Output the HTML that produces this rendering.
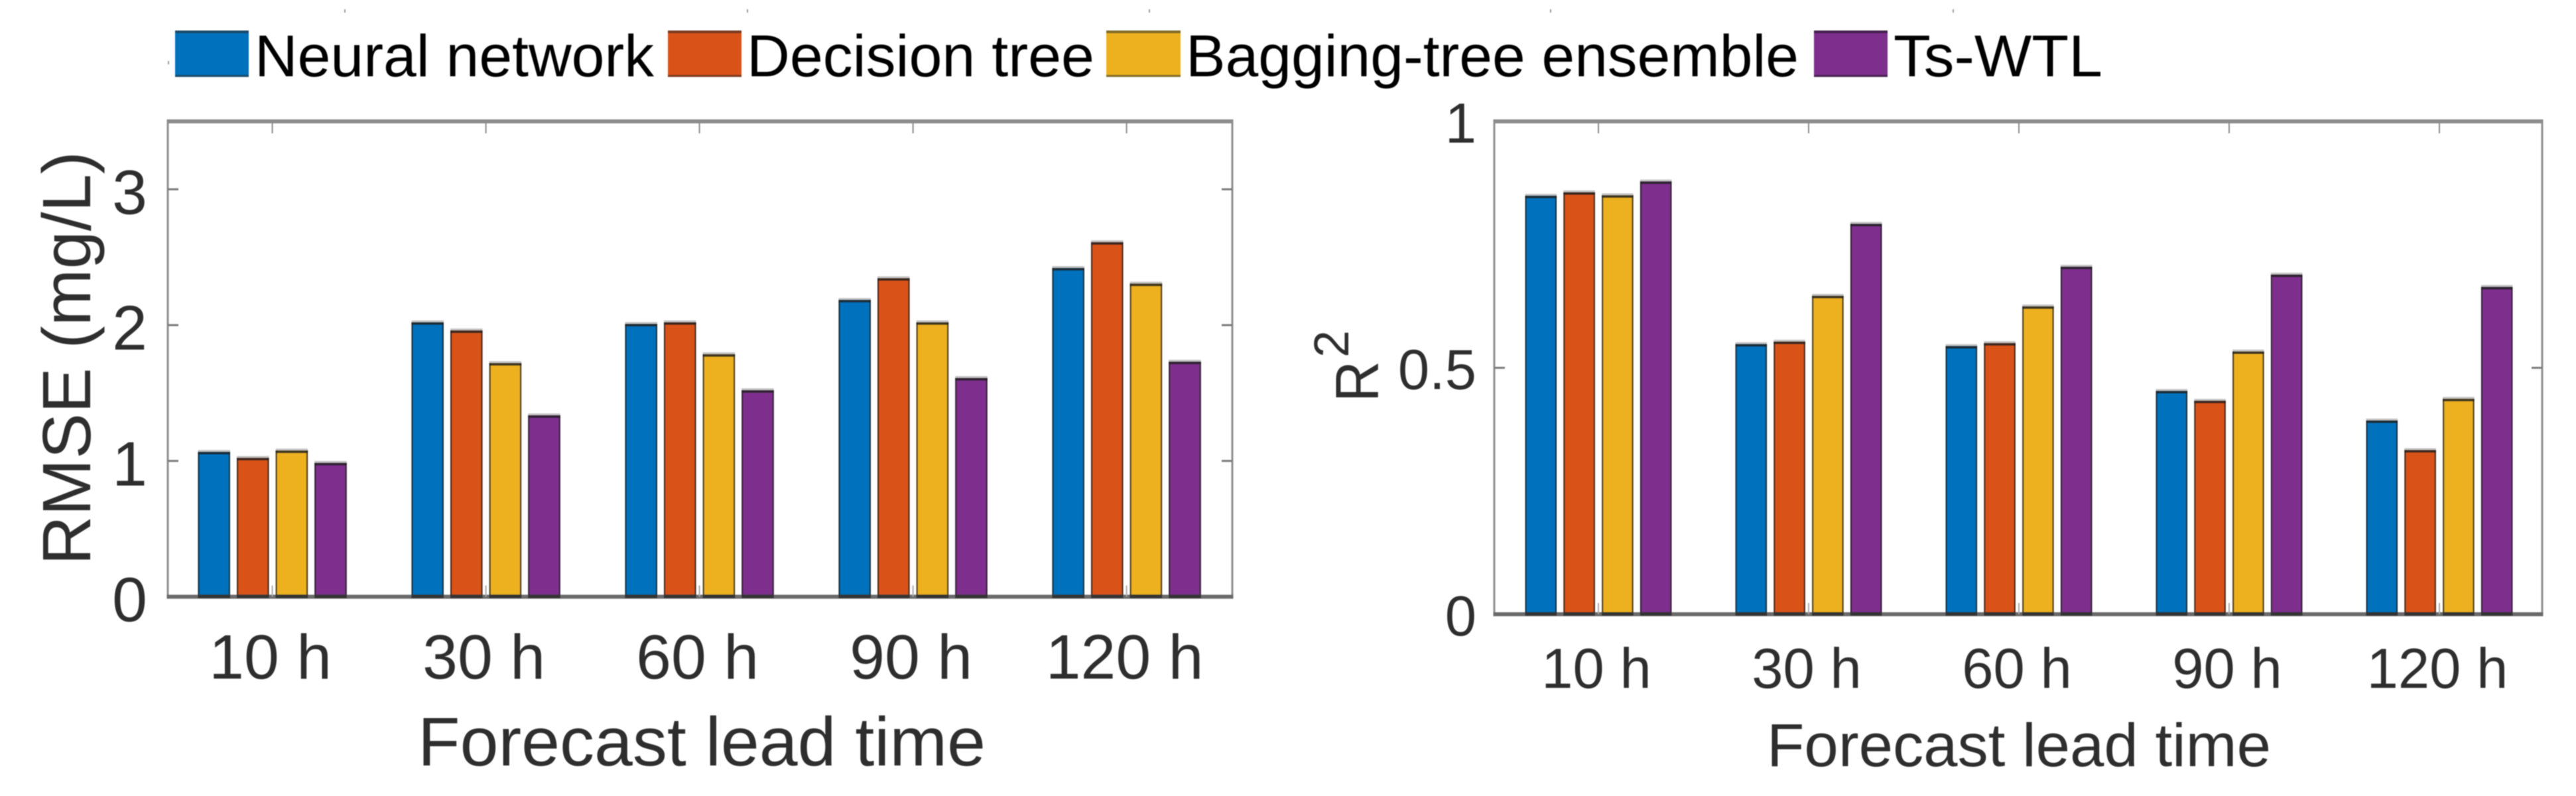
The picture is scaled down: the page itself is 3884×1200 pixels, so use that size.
<!DOCTYPE html>
<html lang="en">
<head>
<meta charset="utf-8">
<title>Forecast lead time comparison</title>
<style>
html,body{margin:0;padding:0;background:#fff;}
svg{display:block;filter:blur(0.8px);}
text{font-family:"Liberation Sans",sans-serif;}
</style>
</head>
<body>
<svg id="chart" xmlns="http://www.w3.org/2000/svg" width="3884" height="1200" viewBox="0 0 3884 1200">
  <rect x="0" y="0" width="3884" height="1200" fill="#ffffff"/>
  <g>
    <g>
      <rect x="264" y="46" width="111" height="70" fill="#0072BD"/>
      <rect x="264" y="46" width="111" height="4" fill="#1a4a68"/>
      <rect x="264" y="113" width="111" height="3" fill="#1a4a68"/>
      <text x="384" y="115" font-size="89" fill="#000" textLength="602" lengthAdjust="spacingAndGlyphs">Neural network</text>
    </g>
    <g>
      <rect x="1007" y="46" width="111" height="70" fill="#D95319"/>
      <rect x="1007" y="46" width="111" height="4" fill="#7a3a20"/>
      <rect x="1007" y="113" width="111" height="3" fill="#7a3a20"/>
      <text x="1126" y="115" font-size="89" fill="#000" textLength="524" lengthAdjust="spacingAndGlyphs">Decision tree</text>
    </g>
    <g>
      <rect x="1668" y="46" width="112" height="70" fill="#EDB120"/>
      <rect x="1668" y="46" width="112" height="4" fill="#7f6a25"/>
      <rect x="1668" y="113" width="112" height="3" fill="#7f6a25"/>
      <text x="1788" y="115" font-size="89" fill="#000" textLength="924" lengthAdjust="spacingAndGlyphs">Bagging-tree ensemble</text>
    </g>
    <g>
      <rect x="2735" y="46" width="111" height="70" fill="#7E2F8E"/>
      <rect x="2735" y="46" width="111" height="4" fill="#45204f"/>
      <rect x="2735" y="113" width="111" height="3" fill="#45204f"/>
      <text x="2855" y="115" font-size="89" fill="#000" textLength="315" lengthAdjust="spacingAndGlyphs">Ts-WTL</text>
    </g>
  </g>
  <g fill="#999">
    <rect x="519" y="14" width="2" height="5"/>
    <rect x="1126" y="14" width="2" height="5"/>
    <rect x="1732" y="14" width="2" height="5"/>
    <rect x="2337" y="14" width="2" height="5"/>
    <rect x="2944" y="14" width="2" height="5"/>
    <rect x="253" y="92" width="2" height="5"/>
  </g>
  <text transform="translate(136,852) rotate(-90)" font-size="103" fill="#2e2e2e" textLength="624" lengthAdjust="spacingAndGlyphs">RMSE (mg/L)</text>
  <text x="630" y="1154" font-size="104" fill="#2e2e2e" textLength="856" lengthAdjust="spacingAndGlyphs">Forecast lead time</text>
  <text transform="translate(2078,606) rotate(-90)" font-size="92" fill="#2e2e2e" textLength="62" lengthAdjust="spacingAndGlyphs">R</text>
  <text transform="translate(2033,539) rotate(-90)" font-size="74" fill="#2e2e2e">2</text>
  <text x="2664" y="1155" font-size="92" fill="#2e2e2e" textLength="760" lengthAdjust="spacingAndGlyphs">Forecast lead time</text>
  <g id="panels"></g>
</svg>
<script>
// Chart data
const categories = ['10 h', '30 h', '60 h', '90 h', '120 h'];
const seriesNames = ['neural-network', 'decision-tree', 'bagging-tree-ensemble', 'ts-wtl'];
const seriesColors = ['#0072BD', '#D95319', '#EDB120', '#7E2F8E'];

const rmseNeuralNetwork = [1.066, 2.02, 2.008, 2.185, 2.42];
const rmseDecisionTree = [1.022, 1.96, 2.02, 2.345, 2.61];
const rmseBagging = [1.076, 1.72, 1.785, 2.02, 2.305];
const rmseTsWtl = [0.985, 1.335, 1.52, 1.61, 1.73];

const r2NeuralNetwork = [0.849, 0.548, 0.544, 0.453, 0.393];
const r2DecisionTree = [0.856, 0.553, 0.55, 0.433, 0.333];
const r2Bagging = [0.85, 0.646, 0.6245, 0.533, 0.437];
const r2TsWtl = [0.878, 0.792, 0.705, 0.689, 0.664];

const rmseTicks = [0, 1, 2, 3];
const r2Ticks = [0, 0.5, 1];

const rmseMax = 3.5;
const r2Max = 1;

const NS = 'http://www.w3.org/2000/svg';
const root = document.getElementById('panels');

function make(tag, attrs, parent) {
  const el = document.createElementNS(NS, tag);
  for (const k in attrs) el.setAttribute(k, attrs[k]);
  parent.appendChild(el);
  return el;
}

function drawPanel(cfg) {
  const g = make('g', {}, root);
  
  

  const yScale = v => cfg.bottom - (v / cfg.max) * (cfg.bottom - cfg.top);
  const groupCenter = i => cfg.x0 + i * cfg.groupStep;
  const barLeft = (i, s) => groupCenter(i) + (s - 1.5) * cfg.barStep - cfg.barW / 2;

  // bars
  cfg.series.forEach((vals, s) => {
    vals.forEach((v, i) => {
      const x = barLeft(i, s);
      const y = yScale(v);
      const halo = make('rect', {x: x, y: y - 3, width: cfg.barW, height: 3, fill: '#c4c4c4'}, g);
      
      
      const bar = make('rect', {x: x, y: y, width: cfg.barW, height: cfg.bottom - y, fill: seriesColors[s], stroke: '#262626', 'stroke-width': 0}, g);
      
      
      const top = make('rect', {x: x, y: y, width: cfg.barW, height: 3.5, fill: '#1f1f1f', opacity: 0.85}, g);
      
      
      const lft = make('rect', {x: x, y: y, width: 2, height: cfg.bottom - y, fill: '#1f1f1f', opacity: 0.8}, g);
      
      
      const rgt = make('rect', {x: x + cfg.barW - 2, y: y, width: 2, height: cfg.bottom - y, fill: '#1f1f1f', opacity: 0.8}, g);
      
      
    });
  });

  // frame
  const left = make('rect', {x: cfg.left - 1.5, y: cfg.top, width: 3, height: cfg.bottom - cfg.top, fill: '#8e8e8e'}, g);
  
  
  const right = make('rect', {x: cfg.right - 1.5, y: cfg.top, width: 3, height: cfg.bottom - cfg.top, fill: '#8e8e8e'}, g);
  
  
  const topLine = make('rect', {x: cfg.left - 1.5, y: cfg.top - 3, width: cfg.right - cfg.left + 3, height: 6, fill: '#8c8c8c'}, g);
  
  
  const bottomLine = make('rect', {x: cfg.left - 1.5, y: cfg.bottom - 3, width: cfg.right - cfg.left + 3, height: 6, fill: '#6a6a6a'}, g);
  
  
  cfg.series.forEach((vals, s) => {
    vals.forEach((v, i) => {
      const foot = make('rect', {x: barLeft(i, s), y: cfg.bottom - 3, width: cfg.barW, height: 5, fill: '#333333'}, g);
      
      
    });
  });

  // x ticks and labels
  categories.forEach((c, i) => {
    const x = groupCenter(i);
    const t1 = make('rect', {x: x - 1, y: cfg.top, width: 2, height: 18, fill: '#8a8a8a'}, g);
    
    
    const t2 = make('rect', {x: x - 1, y: cfg.bottom - 17, width: 2, height: 17, fill: '#aaaaaa'}, g);
    
    
    const lab = make('text', {x: x - 3, y: cfg.xLabelY, 'font-size': cfg.tickFont, 'text-anchor': 'middle', fill: '#2e2e2e'}, g);
    lab.textContent = c;
    
    
  });

  // y ticks and labels
  cfg.ticks.forEach(v => {
    const y = yScale(v);
    if (v > 0 && v < cfg.max) {
      const t1 = make('rect', {x: cfg.left, y: y - 1.5, width: 16, height: 3, fill: '#7a7a7a'}, g);
      
      
      const t2 = make('rect', {x: cfg.right - 16, y: y - 1.5, width: 16, height: 3, fill: '#7a7a7a'}, g);
      
      
    }
    const lab = make('text', {x: cfg.yLabelX, y: y + cfg.yLabelDy, 'font-size': cfg.tickFont, 'text-anchor': 'end', fill: '#2e2e2e'}, g);
    lab.textContent = String(v);
    
    
  });
}

drawPanel({
  id: 'rmse',
  series: [rmseNeuralNetwork, rmseDecisionTree, rmseBagging, rmseTsWtl],
  ticks: rmseTicks,
  max: rmseMax,
  left: 253, right: 1858, top: 183, bottom: 899.6,
  x0: 410.6, groupStep: 322, barStep: 58.6, barW: 48.5,
  tickFont: 95, xLabelY: 1023, yLabelX: 222, yLabelDy: 37
});

drawPanel({
  id: 'r2',
  series: [r2NeuralNetwork, r2DecisionTree, r2Bagging, r2TsWtl],
  ticks: r2Ticks,
  max: r2Max,
  left: 2253, right: 3833, top: 183, bottom: 926,
  x0: 2410, groupStep: 317, barStep: 57.8, barW: 47.5,
  tickFont: 85, xLabelY: 1037, yLabelX: 2226, yLabelDy: 32
});
</script>
</body>
</html>
